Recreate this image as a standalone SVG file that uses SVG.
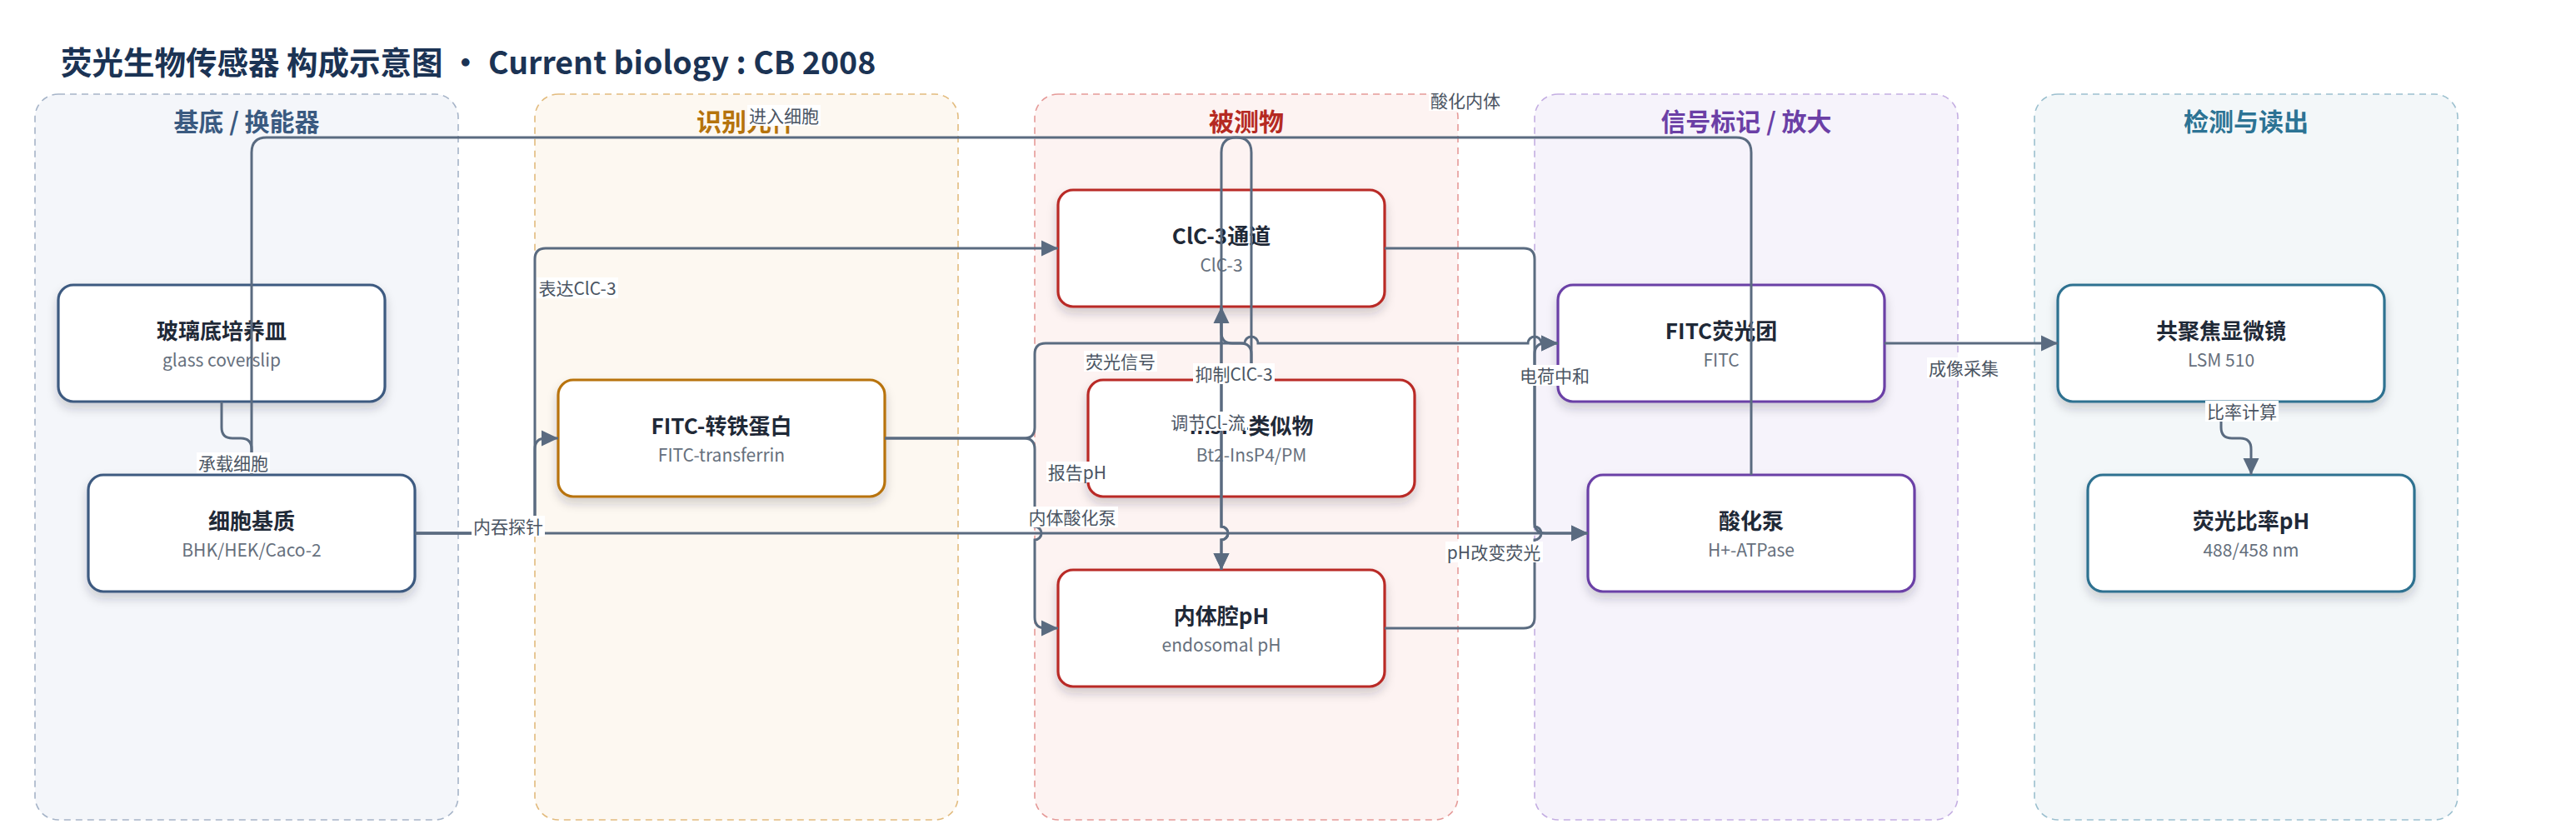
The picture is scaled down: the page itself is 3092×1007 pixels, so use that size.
<svg xmlns="http://www.w3.org/2000/svg" width="3092" height="1007" viewBox="0 0 3092 1007">
<defs>
<style>
text{font-family:"Noto Sans CJK SC","Noto Sans",sans-serif}
.lane{stroke-width:1.6;stroke-dasharray:8 6}
.lt{font-size:30px;font-weight:700;text-anchor:middle}
.node rect.box{fill:#ffffff;stroke-width:3.2;filter:url(#sh)}
.nt{font-size:26px;font-weight:700;fill:#1f2937;text-anchor:middle}
.ns{font-size:21px;fill:#66707d;text-anchor:middle}
.e{fill:none;stroke:#5a6b80;stroke-width:3;marker-end:url(#arr)}
.lb{fill:#ffffff}
.lx{font-size:21px;fill:#4b5563;text-anchor:middle;dominant-baseline:central}
</style>
<filter id="sh" x="-10%" y="-15%" width="120%" height="140%">
<feDropShadow dx="0" dy="7" stdDeviation="6" flood-color="#1f2937" flood-opacity="0.2"/>
</filter>
<marker id="arr" viewBox="0 0 20 20" refX="20" refY="10" markerWidth="20" markerHeight="20" markerUnits="userSpaceOnUse" orient="auto">
<path d="M0,0.5 L20,10 L0,19.5 z" fill="#5a6b80"/>
</marker>
</defs>
<rect width="3092" height="1007" fill="#ffffff"/>
<text x="73" y="89" font-size="37.5" font-weight="700" fill="#1b3354">荧光生物传感器 构成示意图 · Current biology : CB 2008</text>
<g id="lanes">
<rect class="lane" x="42" y="113" width="508" height="871" rx="28" fill="#f4f6fa" stroke="#a6b4c8"/>
<rect class="lane" x="642" y="113" width="508" height="871" rx="28" fill="#fdf8f1" stroke="#e2bb7e"/>
<rect class="lane" x="1242" y="113" width="508" height="871" rx="28" fill="#fdf3f2" stroke="#e59a98"/>
<rect class="lane" x="1842" y="113" width="508" height="871" rx="28" fill="#f6f3fb" stroke="#c4aee2"/>
<rect class="lane" x="2442" y="113" width="508" height="871" rx="28" fill="#f3f7f9" stroke="#9cc0cf"/>
<text class="lt" x="296" y="157" fill="#3a5a80">基底 / 换能器</text>
<text class="lt" x="896" y="157" fill="#b5730c">识别元件</text>
<text class="lt" x="1496" y="157" fill="#b52a22">被测物</text>
<text class="lt" x="2096" y="157" fill="#6b3fa6">信号标记 / 放大</text>
<text class="lt" x="2696" y="157" fill="#2c7394">检测与读出</text>
</g>
<g id="node-glass" class="node"><rect class="box" x="70" y="342" width="392" height="140" rx="18" stroke="#3d5a80"/><text class="nt" x="266" y="407">玻璃底培养皿</text><text class="ns" x="266" y="440">glass coverslip</text></g>
<g id="node-cells" class="node"><rect class="box" x="106" y="570" width="392" height="140" rx="18" stroke="#3d5a80"/><text class="nt" x="302" y="635">细胞基质</text><text class="ns" x="302" y="668">BHK/HEK/Caco-2</text></g>
<g id="node-fitc-tf" class="node"><rect class="box" x="670" y="456" width="392" height="140" rx="18" stroke="#b8730a"/><text class="nt" x="866" y="521">FITC-转铁蛋白</text><text class="ns" x="866" y="554">FITC-transferrin</text></g>
<g id="node-clc3" class="node"><rect class="box" x="1270" y="228" width="392" height="140" rx="18" stroke="#b92b27"/><text class="nt" x="1466" y="293">ClC-3通道</text><text class="ns" x="1466" y="326">ClC-3</text></g>
<g id="node-insp4" class="node"><rect class="box" x="1306" y="456" width="392" height="140" rx="18" stroke="#b92b27"/><text class="nt" x="1502" y="521">InsP4类似物</text><text class="ns" x="1502" y="554">Bt2-InsP4/PM</text></g>
<g id="node-endo-ph" class="node"><rect class="box" x="1270" y="684" width="392" height="140" rx="18" stroke="#b92b27"/><text class="nt" x="1466" y="749">内体腔pH</text><text class="ns" x="1466" y="782">endosomal pH</text></g>
<g id="node-fitc" class="node"><rect class="box" x="1870" y="342" width="392" height="140" rx="18" stroke="#6b3fa6"/><text class="nt" x="2066" y="407">FITC荧光团</text><text class="ns" x="2066" y="440">FITC</text></g>
<g id="node-pump" class="node"><rect class="box" x="1906" y="570" width="392" height="140" rx="18" stroke="#6b3fa6"/><text class="nt" x="2102" y="635">酸化泵</text><text class="ns" x="2102" y="668">H+-ATPase</text></g>
<g id="node-lsm" class="node"><rect class="box" x="2470" y="342" width="392" height="140" rx="18" stroke="#2e7190"/><text class="nt" x="2666" y="407">共聚焦显微镜</text><text class="ns" x="2666" y="440">LSM 510</text></g>
<g id="node-ratio" class="node"><rect class="box" x="2506" y="570" width="392" height="140" rx="18" stroke="#2e7190"/><text class="nt" x="2702" y="635">荧光比率pH</text><text class="ns" x="2702" y="668">488/458 nm</text></g>
<g id="connectors">
<path class="e" d="M266,482 V513 Q266,526 279,526 H289 Q302,526 302,539 V570"/>
<path class="e" d="M498,640 H629 Q642,640 642,627 V539 Q642,526 655,526 H670"/>
<path class="e" d="M498,640 H629 Q642,640 642,627 V311 Q642,298 655,298 H1270"/>
<path class="e" d="M498,640 H1906"/>
<path class="e" d="M1062,526 H1229 Q1242,526 1242,513 V425 Q1242,412 1255,412 H1494 A8,8 0 0 1 1510,412 H1834 A8,8 0 0 1 1850,412 H1870"/>
<path class="e" d="M1062,526 H1229 Q1242,526 1242,539 V632 A8,8 0 0 1 1242,648 V741 Q1242,754 1255,754 H1270"/>
<path class="e" d="M1502,456 V425 Q1502,412 1489,412 H1479 Q1466,412 1466,399 V368"/>
<path class="e" d="M1502,456 V183 Q1502,165 1484,165 H320 Q302,165 302,183 V570"/>
<path class="e" d="M2102,570 V183 Q2102,165 2084,165 H1484 Q1466,165 1466,183 V632 A8,8 0 0 1 1466,648 V684"/>
<path class="e" d="M1466,368 V632 A8,8 0 0 1 1466,648 V684"/>
<path class="e" d="M1662,298 H1829 Q1842,298 1842,311 V627 Q1842,640 1855,640 H1906"/>
<path class="e" d="M1662,754 H1829 Q1842,754 1842,741 V648 A8,8 0 0 0 1842,632 V425 Q1842,412 1855,412 H1870"/>
<path class="e" d="M2262,412 H2470"/>
<path class="e" d="M2666,482 V513 Q2666,526 2679,526 H2689 Q2702,526 2702,539 V570"/>
<g id="edge-labels">
<rect class="lb" x="236" y="543" width="88" height="25"/><text class="lx" x="280" y="555">承载细胞</text>
<rect class="lb" x="566" y="619" width="88" height="25"/><text class="lx" x="610" y="631">内吞探针</text>
<rect class="lb" x="644" y="333" width="98" height="25"/><text class="lx" x="693" y="345">表达ClC-3</text>
<rect class="lb" x="897" y="126" width="88" height="25"/><text class="lx" x="941" y="138">进入细胞</text>
<rect class="lb" x="1301" y="421" width="88" height="25"/><text class="lx" x="1345" y="433">荧光信号</text>
<rect class="lb" x="1432" y="436" width="98" height="25"/><text class="lx" x="1481" y="448">抑制ClC-3</text>
<rect class="lb" x="1403" y="494" width="94" height="23"/><text class="lx" x="1450" y="506">调节Cl-流</text>
<rect class="lb" x="1256" y="554" width="74" height="25"/><text class="lx" x="1293" y="566">报告pH</text>
<rect class="lb" x="1232" y="608" width="110" height="25"/><text class="lx" x="1287" y="620">内体酸化泵</text>
<rect class="lb" x="1715" y="108" width="88" height="25"/><text class="lx" x="1759" y="120">酸化内体</text>
<rect class="lb" x="1822" y="438" width="88" height="25"/><text class="lx" x="1866" y="450">电荷中和</text>
<rect class="lb" x="1735" y="650" width="117" height="25"/><text class="lx" x="1793" y="662">pH改变荧光</text>
<rect class="lb" x="2313" y="429" width="88" height="25"/><text class="lx" x="2357" y="441">成像采集</text>
<rect class="lb" x="2647" y="481" width="88" height="25"/><text class="lx" x="2691" y="493">比率计算</text>
</g>
</g>
</svg>
